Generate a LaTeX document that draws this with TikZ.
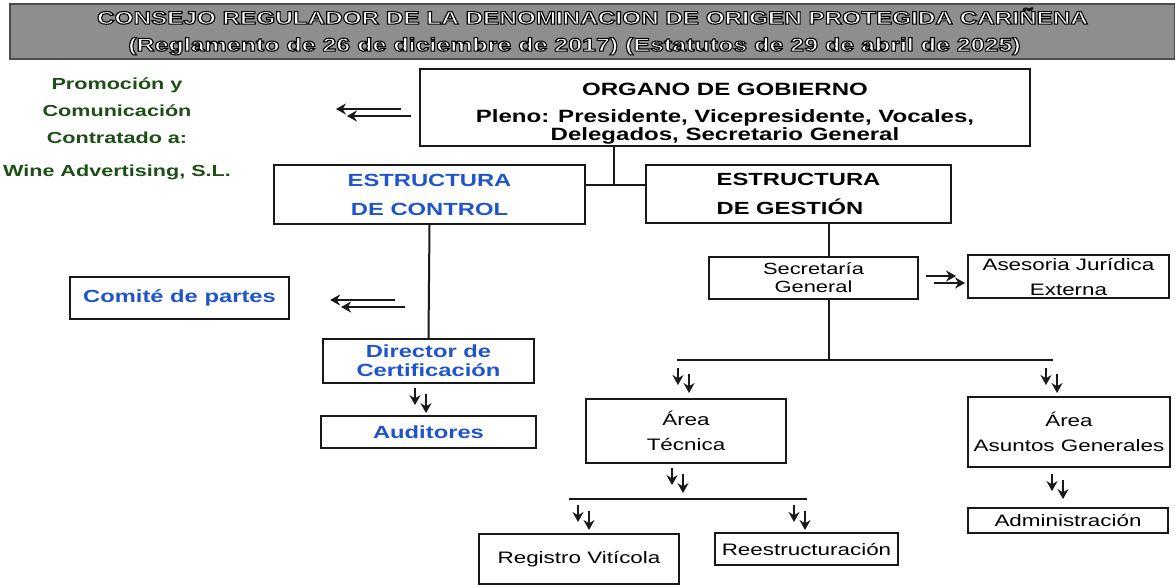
\documentclass[tikz,border=0pt]{standalone}
\usepackage{fontspec}
\setmainfont{Liberation Sans}[FakeStretch=1.35]
\usepackage{tikz}
\usetikzlibrary{positioning,calc,arrows.meta}

\definecolor{bannergray}{RGB}{142,142,142}
\definecolor{ctrlblue}{RGB}{32,84,205}
\definecolor{promogreen}{RGB}{28,78,22}

% white letters with a black outline
\newcommand{\outlined}[1]{{\special{pdf:literal direct 2 Tr 0.55 w 0 0 0 RG}#1\special{pdf:literal direct 0 Tr}}}

\tikzset{
  box/.style={draw=black!90, line width=1.1pt, inner sep=0pt, align=center},
  boldtxt/.style={font=\bfseries\fontsize{8.8}{14.5}\selectfont},
  plaintxt/.style={font=\fontsize{8.3}{12.5}\selectfont},
  conn/.style={line width=1pt, black!90},
  smallarr/.style={line width=1.25pt, black!90, -{Stealth[length=5pt,width=5.5pt]}},
  pics/twodown/.style={code={
    \draw[smallarr] (0,0) -- (0,17);
    \draw[smallarr] (11,6) -- (11,25);
  }},
  pics/twoleft/.style={code={
    \draw[smallarr] (0,0) -- (-64,0);
    \draw[smallarr] (-10,-7) -- (-75,-7);
  }},
  pics/tworight/.style={code={
    \draw[smallarr] (0,0) -- (30,0);
    \draw[smallarr] (8,7) -- (39,7);
  }},
}

\begin{document}
\begin{tikzpicture}[x=0.5pt, y=-0.5pt]
\useasboundingbox (0,0) rectangle (1175,586);

% header
\node[draw=black!70, fill=bannergray, line width=0.8pt, minimum width=582.5pt, minimum height=27.5pt,
  inner sep=0pt, text=white, align=center, font=\bfseries\fontsize{9}{13.5}\selectfont] (banner) at (592.5,31.5)
  {\outlined{CONSEJO REGULADOR DE LA DENOMINACION DE ORIGEN PROTEGIDA CARIÑENA}\\
   {\fontsize{9.25}{13.5}\selectfont\outlined{(Reglamento de 26 de diciembre de 2017) (Estatutos de 29 de abril de 2025)}}\hspace*{18pt}};

\node[text=promogreen, align=center, font=\bfseries\fontsize{8}{13.5}\selectfont] (promo) at (117,129)
  {Promoción y\\Comunicación\\Contratado a:\\[3pt]Wine Advertising, S.L.};

\node[box, minimum width=305pt, minimum height=38.5pt, font=\bfseries\fontsize{8.9}{9}\selectfont] (organo) at (725,107.5)
  {\rule{0pt}{12.5pt}ORGANO DE GOBIERNO\\[4.5pt]Pleno: Presidente, Vicepresidente, Vocales,\\Delegados, Secretario General};

\node[box, boldtxt, text=ctrlblue, minimum width=155.5pt, minimum height=29.5pt] (control) at (429.5,194.5) {ESTRUCTURA\\DE CONTROL};
\node[box, boldtxt, align=left, minimum width=152.5pt, minimum height=29pt] (gestion) at (798.5,194) {ESTRUCTURA\\DE GESTIÓN};

\node[box, boldtxt, text=ctrlblue, minimum width=109.5pt, minimum height=21pt] (comite) at (179.5,298) {Comité de partes};
\node[box, text=ctrlblue, font=\bfseries\fontsize{8.8}{9.5}\selectfont, minimum width=105.5pt, minimum height=22pt] (director) at (428.5,361) {Director de\\Certificación};
\node[box, boldtxt, text=ctrlblue, minimum width=107.5pt, minimum height=16pt] (auditores) at (428.5,432) {Auditores};

\node[box, font=\fontsize{8.1}{9}\selectfont, minimum width=104.5pt, minimum height=21pt] (secretaria) at (813.5,278) {Secretaría\\General};
\node[box, plaintxt, minimum width=100.5pt, minimum height=21.5pt] (asesoria) at (1068.5,276.5) {Asesoria Jurídica\\Externa};

\node[box, plaintxt, minimum width=100pt, minimum height=32pt] (tecnica) at (686,431) {Área\\Técnica};
\node[box, plaintxt, minimum width=101pt, minimum height=35pt] (asuntos) at (1069,432) {Área\\Asuntos Generales};
\node[box, plaintxt, minimum width=100pt, minimum height=12.5pt] (admin) at (1068,520.5) {Administración};
\node[box, plaintxt, minimum width=100pt, minimum height=25pt] (registro) at (579,559) {Registro Vitícola};
\node[box, plaintxt, minimum width=91.5pt, minimum height=16pt] (reestruct) at (806.5,549) {Reestructuración};

% connectors
\coordinate (jtop) at (614,185);
\draw[conn] (organo.south -| jtop) -- (jtop);
\draw[conn] (control.east |- jtop) -- (gestion.west |- jtop);
\draw[conn] (control.south) -- (director.north);

\coordinate (jsec) at (829,360);
\draw[conn] (gestion.south -| jsec) -- (secretaria.north -| jsec);
\draw[conn] (secretaria.south -| jsec) -- (jsec);
\coordinate (areaL) at (677,360);
\coordinate (areaR) at (1053,360);
\draw[conn] (areaL) -- (areaR);
\coordinate (subL) at (569,499);
\coordinate (subR) at (807,499);
\draw[conn] (subL) -- (subR);

% double arrows
\pic at ($(organo.west)+(-8,8.5)$) {twoleft};
\pic at ($(comite.east)+(115,9)$) {twoleft};
\pic at ($(secretaria.east)+(7,-2)$) {tworight};
\pic at ($(director.south)+(-13.5,4)$) {twodown};
\pic at ($(areaL)+(1,8)$) {twodown};
\pic at ($(areaR)+(-7,8)$) {twodown};
\pic at ($(tecnica.south)+(-14,4)$) {twodown};
\pic at ($(subL)+(9,6)$) {twodown};
\pic at ($(subR)+(-13,6)$) {twodown};
\pic at ($(asuntos.south)+(-17,6)$) {twodown};

\end{tikzpicture}
\end{document}
